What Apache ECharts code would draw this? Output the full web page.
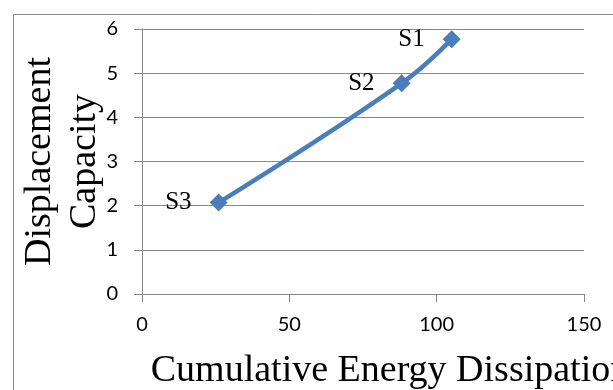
<!DOCTYPE html>
<html>
<head>
<meta charset="utf-8">
<script src="https://cdn.jsdelivr.net/npm/echarts@6/dist/echarts.min.js"></script>
<style>
    html, body { margin: 0; padding: 0; background: #fff; }
    #chart { width: 613px; height: 390px; }
</style>
</head>
<body>
<div id="chart"></div>
<script>
// 数据
const pointNames = ['S3', 'S2', 'S1'];
const energyValues = [26, 88.1, 105.1];      // Cumulative Energy Dissipation
const capacityValues = [2.07, 4.77, 5.77];   // Displacement Capacity
const xTicks = { min: 0, max: 150, interval: 50 };
const yTicks = { min: 0, max: 6, interval: 1 };

const lineColor = '#4A7EBB';
const axisGray = '#868686';

const myChart = echarts.init(document.getElementById('chart'));

const seriesData = pointNames.map((name, i) => ({
    name: name,
    value: [energyValues[i], capacityValues[i]]
}));

const options = {
    animation: false,
    grid: {
        left: 142,
        right: 29,
        top: 29,
        bottom: 96,
        outerBoundsMode: 'none',
    },
    // 外框
    graphic: [
        {
            type: 'rect',
            left: 11,
            top: 12,
            shape: { x: 0.5, y: 0.5, width: 700, height: 500 },
            style: { fill: 'none', stroke: '#8c8c8c', lineWidth: 1 },
            silent: true,
        }
    ],
    xAxis: {
        type: 'value',
        min: xTicks.min,
        max: xTicks.max,
        interval: xTicks.interval,
        name: 'Cumulative Energy Dissipation',
        nameLocation: 'middle',
        nameGap: 58,
        nameMoveOverlap: false,
        nameTextStyle: {
            fontFamily: 'Liberation Serif',
            fontSize: 38,
            color: '#000',
            padding: [0, 0, 0, 54],
        },
        axisLine: { show: true, lineStyle: { color: axisGray, width: 1 } },
        axisTick: { show: true, length: 8, lineStyle: { color: axisGray } },
        splitLine: { show: false },
        axisLabel: {
            margin: 21,
            fontFamily: 'Lato',
            fontSize: 20,
            color: '#000',
        },
    },
    yAxis: {
        type: 'value',
        min: yTicks.min,
        max: yTicks.max,
        interval: yTicks.interval,
        name: 'Displacement\nCapacity',
        nameLocation: 'middle',
        nameRotate: 90,
        nameGap: 34,
        nameMoveOverlap: false,
        nameTextStyle: {
            fontFamily: 'Liberation Serif',
            fontSize: 38,
            lineHeight: 45,
            color: '#000',
        },
        axisLine: { show: true, lineStyle: { color: axisGray, width: 1 } },
        axisTick: { show: true, length: 8, lineStyle: { color: axisGray } },
        splitLine: { show: true, lineStyle: { color: '#8a8a8a', width: 1 } },
        axisLabel: {
            margin: 24,
            fontFamily: 'Lato',
            fontSize: 20,
            color: '#000',
        },
    },
    series: [
        {
            type: 'line',
            data: seriesData,
            smooth: 0.4,
            symbol: 'diamond',
            symbolSize: 18,
            lineStyle: { color: lineColor, width: 4.5 },
            itemStyle: { color: lineColor },
            label: {
                show: true,
                position: 'left',
                distance: 18,
                formatter: '{b}',
                fontFamily: 'Liberation Serif',
                fontSize: 25,
                color: '#000',
            },
        }
    ]
};

myChart.setOption(options);
</script>
</body>
</html>
